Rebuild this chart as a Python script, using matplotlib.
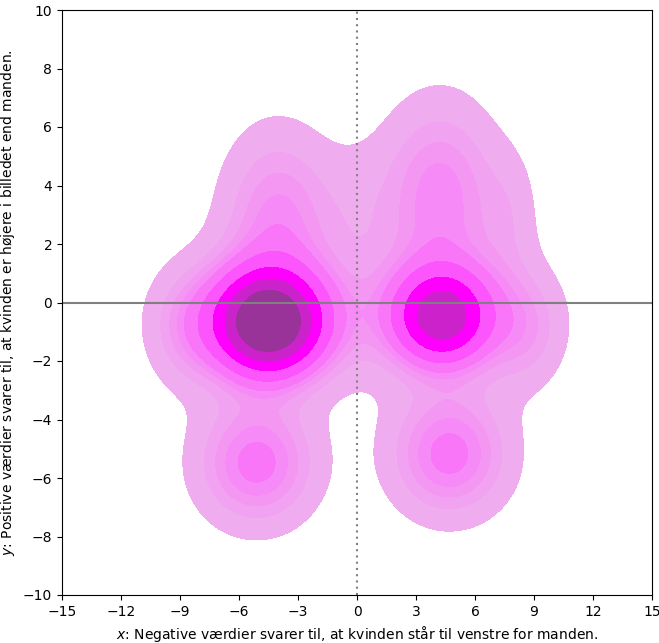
import numpy as np
import matplotlib
matplotlib.use("Agg")
import matplotlib.pyplot as plt

# Mixture components describing the estimated density (data coords)
comp_x  = [-4.5, 4.3, -4.6, 4.5, -5.1, 4.7, -4.0, 4.2, -8.6, 8.6, 7.8, 0.0]
comp_y  = [-0.7, -0.5, -0.6, -0.4, -5.5, -5.2, 2.9, 3.7, -0.9, -1.0, 3.0, 3.2]
comp_sx = [1.7, 1.5, 2.9, 2.9, 2.0, 2.0, 1.9, 2.0, 1.3, 1.3, 1.0, 1.4]
comp_sy = [1.1, 1.0, 1.5, 1.5, 1.4, 1.4, 2.0, 2.1, 1.3, 1.3, 1.5, 1.6]
comp_w  = [1.0, 0.5, 0.65, 0.55, 0.4, 0.4, 0.42, 0.5, 0.09, 0.09, 0.05, 0.06]

band_colors = ['#EFACEF', '#F1A2F1', '#F397F3', '#F68AF6', '#F976F9',
               '#FD55FD', '#FF00FF', '#CC22CC', '#993399']

x_ticks = [-15, -12, -9, -6, -3, 0, 3, 6, 9, 12, 15]
y_ticks = [-10, -8, -6, -4, -2, 0, 2, 4, 6, 8, 10]

xlabel = "$x$: Negative værdier svarer til, at kvinden står til venstre for manden."
ylabel = "$y$: Positive værdier svarer til, at kvinden er højere i billedet end manden."

xs = np.linspace(-15, 15, 400)
ys = np.linspace(-10, 10, 400)
X, Y = np.meshgrid(xs, ys)
Z = np.zeros_like(X)
for cx, cy, sx, sy, w in zip(comp_x, comp_y, comp_sx, comp_sy, comp_w):
    Z += w / (sx * sy) * np.exp(-0.5 * (((X - cx) / sx) ** 2 + ((Y - cy) / sy) ** 2))

# iso-proportion levels (as seaborn kdeplot does)
props = np.linspace(0.05, 1, 10)
vals = np.sort(Z.ravel())[::-1]
cum = np.cumsum(vals) / vals.sum()
idx = np.searchsorted(cum, 1 - props)
levels = np.take(vals, idx, mode="clip")
levels = np.unique(levels)
levels[-1] = Z.max() * 1.0001

fig = plt.figure(figsize=(6.59, 6.43), dpi=100)
ax = fig.add_axes([62/659, 48/643, 590/659, 585/643])
ax.contourf(X, Y, Z, levels=levels, colors=band_colors[:len(levels)-1])
ax.axhline(0, color='#808080', lw=1.5)
ax.axvline(0, color='#808080', lw=1.5, ls=(0, (1, 2)))
ax.set_xlim(-15, 15)
ax.set_ylim(-10, 10)
ax.set_xticks(x_ticks)
ax.set_yticks(y_ticks)
ax.set_xlabel(xlabel, fontsize=10)
ax.set_ylabel(ylabel, fontsize=10)
fig.savefig("out.png", dpi=100)
